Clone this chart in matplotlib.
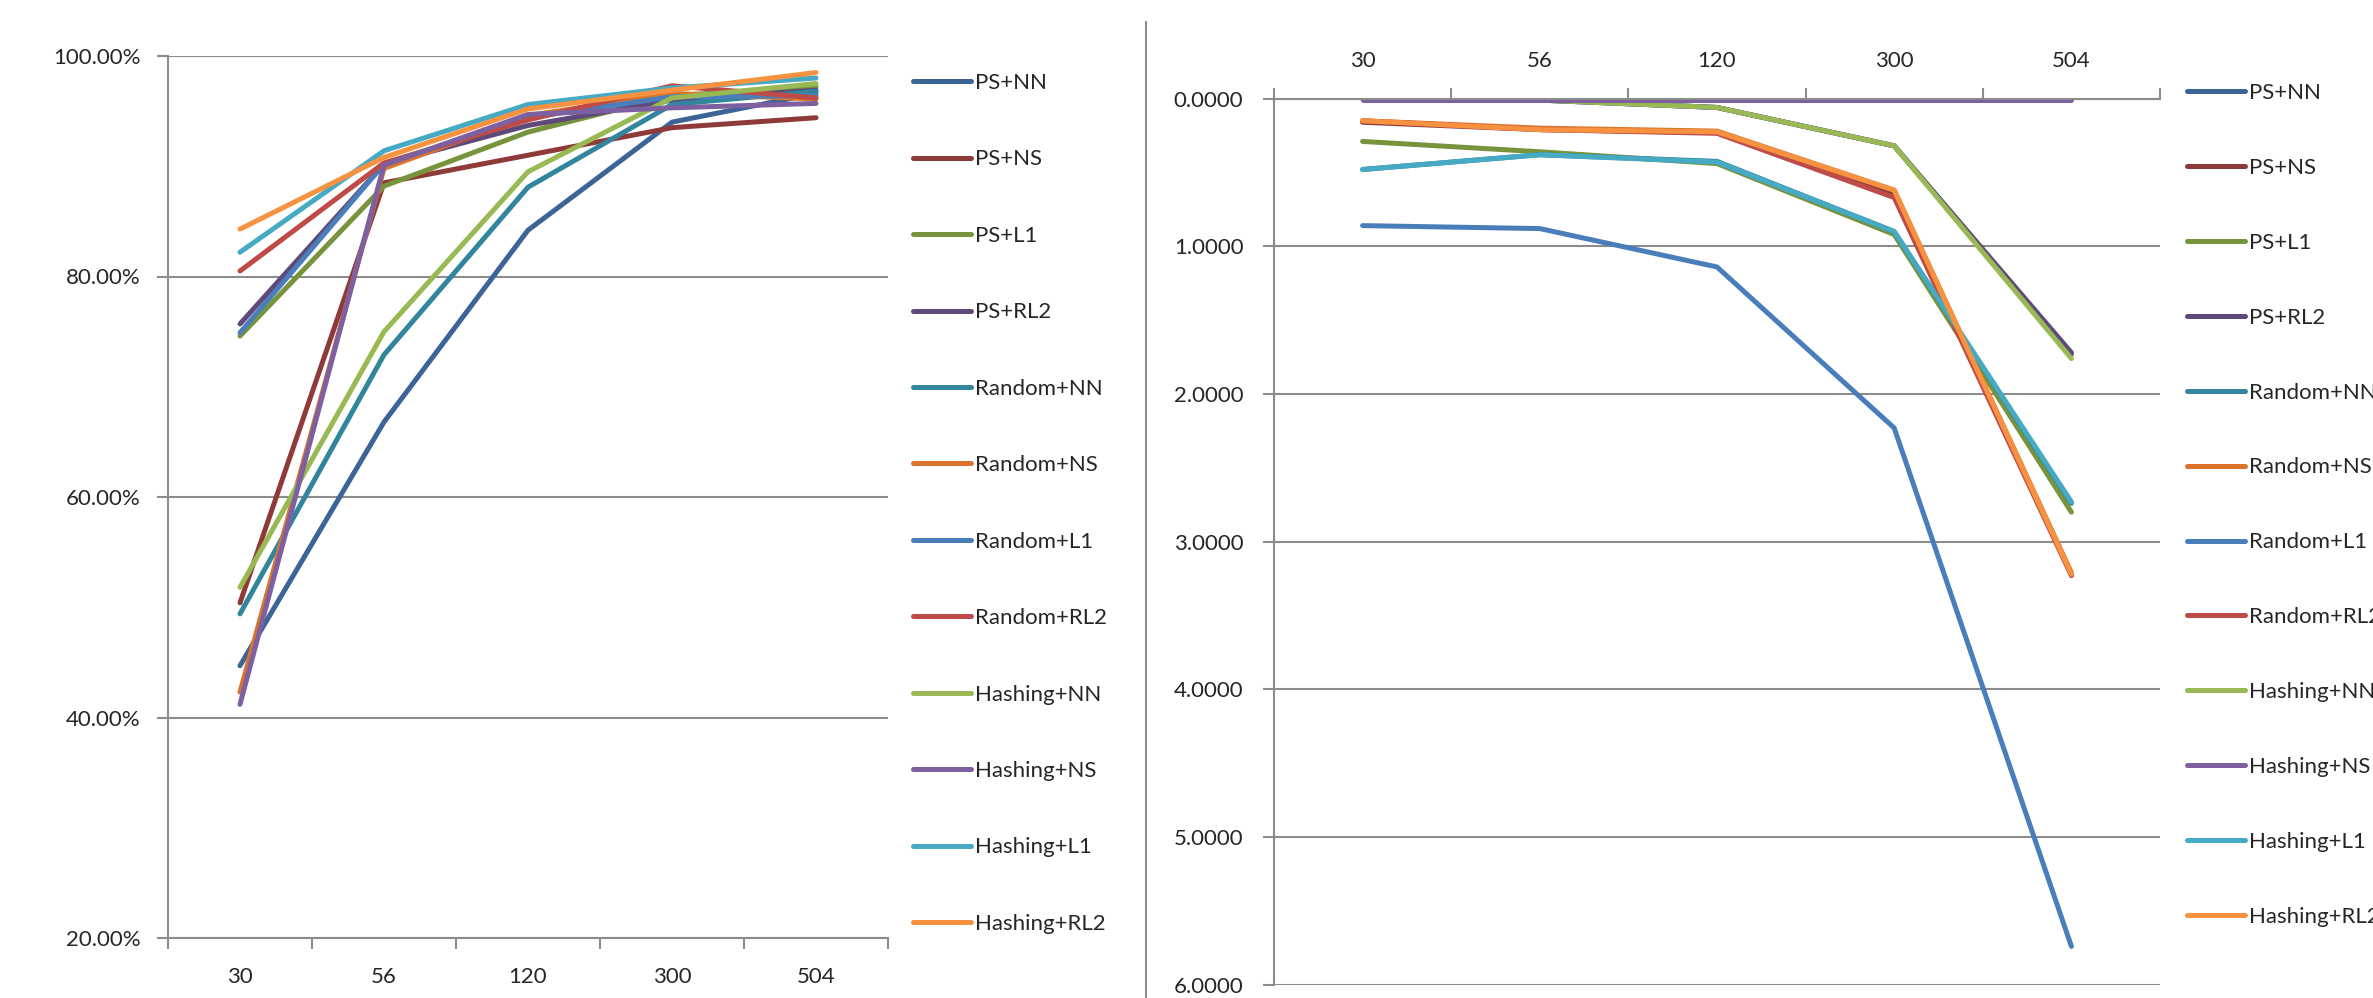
import matplotlib.pyplot as plt
from matplotlib.ticker import FixedLocator, FuncFormatter, NullFormatter
from matplotlib.lines import Line2D

plt.rcParams['font.family'] = ['Lato', 'DejaVu Sans']
plt.rcParams['font.size'] = 16

sizes = ['30', '56', '120', '300', '504']
methods = ['PS+NN', 'PS+NS', 'PS+L1', 'PS+RL2',
           'Random+NN', 'Random+NS', 'Random+L1', 'Random+RL2',
           'Hashing+NN', 'Hashing+NS', 'Hashing+L1', 'Hashing+RL2']
colors = ['#3C6496', '#8E3A38', '#77933C', '#5F497A',
          '#31859C', '#DA742C', '#4A7EBB', '#BE4B48',
          '#98B954', '#7D60A0', '#46AAC5', '#F69240']

# accuracy in percent
acc_ps_nn = [44.7, 66.8, 84.2, 94.0, 96.6]
acc_ps_ns = [50.4, 88.5, 91.0, 93.5, 94.4]
acc_ps_l1 = [74.6, 88.2, 93.1, 96.4, 97.2]
acc_ps_rl2 = [75.7, 90.2, 93.7, 96.0, 96.9]
acc_rand_nn = [49.4, 72.9, 88.1, 95.6, 96.8]
acc_rand_ns = [42.3, 89.8, 94.6, 96.6, 96.1]
acc_rand_l1 = [74.9, 90.2, 94.4, 96.3, 96.4]
acc_rand_rl2 = [80.5, 90.3, 94.2, 97.3, 96.2]
acc_hash_nn = [51.8, 75.0, 89.5, 96.2, 97.5]
acc_hash_ns = [41.2, 90.1, 94.7, 95.3, 95.7]
acc_hash_l1 = [82.2, 91.4, 95.6, 97.1, 98.0]
acc_hash_rl2 = [84.3, 90.8, 95.2, 96.9, 98.5]

# running time
time_ps_nn = [0.00, 0.01, 0.060, 0.32, 1.73]
time_ps_ns = [0.16, 0.21, 0.230, 0.64, 3.22]
time_ps_l1 = [0.29, 0.36, 0.440, 0.92, 2.80]
time_ps_rl2 = [0.00, 0.01, 0.060, 0.32, 1.72]
time_rand_nn = [0.48, 0.38, 0.425, 0.90, 2.74]
time_rand_ns = [0.15, 0.20, 0.220, 0.62, 3.21]
time_rand_l1 = [0.86, 0.88, 1.140, 2.23, 5.74]
time_rand_rl2 = [0.15, 0.21, 0.235, 0.67, 3.23]
time_hash_nn = [0.00, 0.01, 0.060, 0.32, 1.76]
time_hash_ns = [0.01, 0.01, 0.010, 0.01, 0.01]
time_hash_l1 = [0.48, 0.38, 0.430, 0.90, 2.73]
time_hash_rl2 = [0.15, 0.21, 0.225, 0.62, 3.22]

acc = [acc_ps_nn, acc_ps_ns, acc_ps_l1, acc_ps_rl2, acc_rand_nn, acc_rand_ns,
       acc_rand_l1, acc_rand_rl2, acc_hash_nn, acc_hash_ns, acc_hash_l1, acc_hash_rl2]
times = [time_ps_nn, time_ps_ns, time_ps_l1, time_ps_rl2, time_rand_nn, time_rand_ns,
         time_rand_l1, time_rand_rl2, time_hash_nn, time_hash_ns, time_hash_l1, time_hash_rl2]

W, H = 2373, 998
grid_c = '#8C8C8C'
text_c = '#262626'

fig = plt.figure(figsize=(W / 100, H / 100), dpi=100)

def px_axes(x0, y0, x1, y1):
    return fig.add_axes([x0 / W, 1 - y1 / H, (x1 - x0) / W, (y1 - y0) / H])

def style(ax):
    x = range(len(sizes))
    ax.set_xlim(-0.5, len(sizes) - 0.5)
    ax.xaxis.set_major_locator(FixedLocator(list(x)))
    ax.set_xticklabels(sizes)
    ax.xaxis.set_minor_locator(FixedLocator([i - 0.5 for i in range(len(sizes) + 1)]))
    ax.xaxis.set_minor_formatter(NullFormatter())
    ax.tick_params(axis='x', which='major', length=0, colors=text_c)
    ax.tick_params(axis='x', which='minor', length=8, width=1.5, color=grid_c)
    ax.tick_params(axis='y', length=8, width=1.5, color=grid_c, labelcolor=text_c)
    ax.grid(axis='y', color=grid_c, linewidth=1.5)
    ax.set_axisbelow(True)
    for s in ax.spines.values():
        s.set_color(grid_c)
        s.set_linewidth(1.5)

# accuracy chart
ax1 = px_axes(168, 56, 888, 938)
for m, vals, c in zip(methods, acc, colors):
    ax1.plot(range(len(sizes)), vals, color=c, lw=3.6, label=m, solid_capstyle='round')
style(ax1)
ax1.set_ylim(20, 100)
ax1.yaxis.set_major_locator(FixedLocator([20, 40, 60, 80, 100]))
ax1.yaxis.set_major_formatter(FuncFormatter(lambda v, p: '%.2f%%' % v))
ax1.spines['top'].set_visible(False)
ax1.spines['right'].set_visible(False)
ax1.tick_params(axis='x', which='major', pad=21)
ax1.tick_params(axis='y', pad=12)
ax1.legend(loc='upper left', bbox_to_anchor=(913 / W, 1 - 73 / H), bbox_transform=fig.transFigure,
           frameon=False, borderpad=0, borderaxespad=0, handlelength=2.6, handletextpad=0.2,
           labelspacing=2.54, fontsize=16, labelcolor=text_c)

# time chart, inverted axis with categories on top
ax2 = px_axes(1274, 98.6, 2160, 984.8)
for m, vals, c in zip(methods, times, colors):
    ax2.plot(range(len(sizes)), vals, color=c, lw=3.6, label=m, solid_capstyle='round')
style(ax2)
ax2.set_ylim(6, 0)
ax2.yaxis.set_major_locator(FixedLocator([0, 1, 2, 3, 4, 5, 6]))
ax2.yaxis.set_major_formatter(FuncFormatter(lambda v, p: '%.4f' % v))
ax2.xaxis.tick_top()
ax2.spines['bottom'].set_visible(False)
ax2.spines['right'].set_visible(False)
ax2.tick_params(axis='x', which='major', pad=20)
ax2.tick_params(axis='x', which='minor', top=True, bottom=False)
ax2.tick_params(axis='y', pad=14)
ax2.legend(loc='upper left', bbox_to_anchor=(2187 / W, 1 - 83 / H), bbox_transform=fig.transFigure,
           frameon=False, borderpad=0, borderaxespad=0, handlelength=2.6, handletextpad=0.2,
           labelspacing=2.47, fontsize=16, labelcolor=text_c)

# divider between the two charts
fig.add_artist(Line2D([1146 / W, 1146 / W], [0, 1 - 22 / H], transform=fig.transFigure,
                      color='#8C8C8C', lw=1.5))

fig.savefig('out.png', dpi=100, facecolor='white')
